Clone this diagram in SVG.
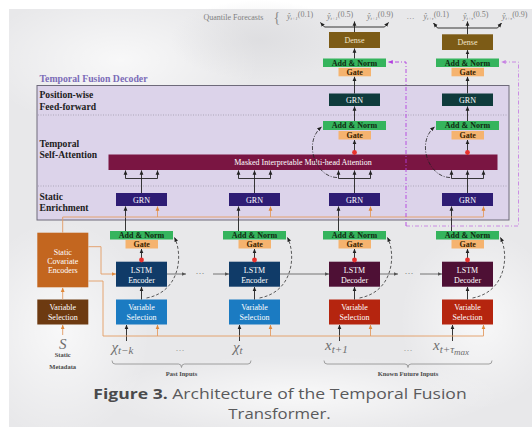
<svg xmlns="http://www.w3.org/2000/svg" width="532" height="430" viewBox="0 0 532 430">
<defs>
<style>
.sf{font-family:"Liberation Serif","DejaVu Serif",serif}
.wt{fill:#ffffff;font-size:8px;text-anchor:middle}
.bt{fill:#0f2a12;font-size:8px;font-weight:bold;text-anchor:middle}
.gtt{fill:#3a2200;font-size:8px;font-weight:bold;text-anchor:middle}
.lbl{fill:#1c1c1c;font-size:9.6px;font-weight:bold}
.an{fill:#35b45d}
.gt{fill:#f5b36f}
.gs{fill:#2e1c74}
.gp{fill:#0f3b3c}
.ds{fill:#7c5b16}
.le{fill:#103b68}
.ld{fill:#4e1035}
.vb{fill:#1b7bc2}
.vr{fill:#b5250f}
.k{stroke:#222;stroke-width:0.9;fill:none;marker-end:url(#mk)}
.kn{stroke:#222;stroke-width:0.9;fill:none}
.o{stroke:#e39c63;stroke-width:0.9;fill:none}
.oa{stroke:#e39c63;stroke-width:0.9;fill:none;marker-end:url(#mo)}
.g{stroke:#555;stroke-width:0.8;fill:none;marker-end:url(#mg)}
.p{stroke:#b23fe0;stroke-width:0.9;fill:none;stroke-dasharray:4 2 1 2;marker-end:url(#mp)}
.sk{stroke:#333;stroke-width:0.8;fill:none;stroke-dasharray:3 2;marker-end:url(#mk)}
.dd{stroke:#222;stroke-width:0.8;fill:none;stroke-dasharray:4 1.5 1 1.5;marker-end:url(#mk)}
.dot{fill:#e8322e}
.inp{fill:#6e6e6e;font-style:italic;font-size:15px}
.q{fill:#808080;font-size:8px}
.sm{fill:#4a4a4a;font-size:6.5px;font-weight:bold;text-anchor:middle}
</style>
<marker id="mk" viewBox="0 0 8 8" refX="7.5" refY="4" markerWidth="4.5" markerHeight="4.5" markerUnits="userSpaceOnUse" orient="auto"><path d="M0,0.6 L8,4 L0,7.4 z" fill="#222"/></marker>
<marker id="mo" viewBox="0 0 8 8" refX="7.5" refY="4" markerWidth="4.5" markerHeight="4.5" markerUnits="userSpaceOnUse" orient="auto"><path d="M0,0.6 L8,4 L0,7.4 z" fill="#e0883a"/></marker>
<marker id="mg" viewBox="0 0 8 8" refX="7.5" refY="4" markerWidth="4.5" markerHeight="4.5" markerUnits="userSpaceOnUse" orient="auto"><path d="M0,0.6 L8,4 L0,7.4 z" fill="#555"/></marker>
<marker id="mp" viewBox="0 0 8 8" refX="7.5" refY="4" markerWidth="4.5" markerHeight="4.5" markerUnits="userSpaceOnUse" orient="auto"><path d="M0,0.6 L8,4 L0,7.4 z" fill="#b23fe0"/></marker>
<radialGradient id="cl1" cx="0.5" cy="0.5" r="0.5"><stop offset="0" stop-color="#ffffff" stop-opacity="0.7"/><stop offset="1" stop-color="#ffffff" stop-opacity="0"/></radialGradient>
<radialGradient id="cl2" cx="0.5" cy="0.5" r="0.5"><stop offset="0" stop-color="#d8d8db" stop-opacity="0.6"/><stop offset="1" stop-color="#d8d8db" stop-opacity="0"/></radialGradient>
</defs>

<g id="background">
<rect x="0" y="0" width="532" height="430" fill="#ffffff"/>
<rect x="9" y="9" width="523" height="418" fill="#e8e8ea"/>
<ellipse cx="120" cy="60" rx="140" ry="70" fill="url(#cl1)"/>
<ellipse cx="60" cy="330" rx="90" ry="110" fill="url(#cl1)"/>
<ellipse cx="300" cy="395" rx="200" ry="40" fill="url(#cl1)"/>
<ellipse cx="480" cy="320" rx="80" ry="90" fill="url(#cl1)"/>
<ellipse cx="260" cy="40" rx="90" ry="40" fill="url(#cl2)"/>
</g>

<g id="decoder">
<rect x="37" y="85.5" width="472" height="134.5" fill="#dcd3ea" stroke="#6e6a7a" stroke-width="1"/>
<line x1="38" y1="115" x2="508" y2="115" stroke="#9a96a6" stroke-width="0.7" stroke-dasharray="1 1.5"/>
<line x1="38" y1="186" x2="508" y2="186" stroke="#9a96a6" stroke-width="0.7" stroke-dasharray="1 1.5"/>
<text class="sf" x="39.5" y="82" fill="#7b6cb8" font-size="9.5" font-weight="bold" textLength="108" lengthAdjust="spacingAndGlyphs">Temporal Fusion Decoder</text>
<text class="sf lbl" x="39.5" y="98">Position-wise</text>
<text class="sf lbl" x="39.5" y="109.5">Feed-forward</text>
<text class="sf lbl" x="39.5" y="146.5">Temporal</text>
<text class="sf lbl" x="39.5" y="157.5">Self-Attention</text>
<text class="sf lbl" x="39.5" y="200">Static</text>
<text class="sf lbl" x="39.5" y="210.5">Enrichment</text>
</g>

<g id="attention">
<rect x="108.5" y="154.5" width="389" height="15.5" fill="#7a1542"/>
<text class="sf wt" x="303" y="165" font-size="8.5">Masked Interpretable Multi-head Attention</text>
</g>

<g id="static-covariate-encoders">
<rect x="37.3" y="232.7" width="51" height="54.6" fill="#c3661f"/>
<text class="sf wt" x="62.8" y="254.5">Static</text>
<text class="sf wt" x="62.8" y="263.5">Covariate</text>
<text class="sf wt" x="62.8" y="272.5">Encoders</text>
</g>
<g id="vs-static">
<rect x="37.3" y="299.5" width="51" height="25" fill="#6d3a11"/>
<text class="sf wt" x="62.8" y="310">Variable</text>
<text class="sf wt" x="62.8" y="320">Selection</text>
</g>

<g id="grn-enrich-1"><rect class="gs" x="116" y="193" width="51" height="13"/><text class="sf wt" x="141.5" y="202.5">GRN</text></g>
<g id="addnorm-lstm-1"><rect class="an" x="110" y="231" width="63" height="8.5"/><text class="sf bt" x="141.5" y="238">Add &amp; Norm</text></g>
<g id="gate-lstm-1"><rect class="gt" x="125.5" y="240" width="32.5" height="8.5"/><text class="sf gtt" x="141.7" y="247">Gate</text></g>
<g id="lstm-1"><rect class="le" x="116" y="261.7" width="51" height="25"/><text class="sf wt" x="141.5" y="272.5">LSTM</text><text class="sf wt" x="141.5" y="282.5">Encoder</text></g>
<g id="vs-1"><rect class="vb" x="116" y="299.5" width="51" height="25"/><text class="sf wt" x="141.5" y="310">Variable</text><text class="sf wt" x="141.5" y="320">Selection</text></g>

<g id="grn-enrich-2"><rect class="gs" x="229" y="193" width="51" height="13"/><text class="sf wt" x="254.5" y="202.5">GRN</text></g>
<g id="addnorm-lstm-2"><rect class="an" x="223" y="231" width="63" height="8.5"/><text class="sf bt" x="254.5" y="238">Add &amp; Norm</text></g>
<g id="gate-lstm-2"><rect class="gt" x="238.5" y="240" width="32.5" height="8.5"/><text class="sf gtt" x="254.7" y="247">Gate</text></g>
<g id="lstm-2"><rect class="le" x="229" y="261.7" width="51" height="25"/><text class="sf wt" x="254.5" y="272.5">LSTM</text><text class="sf wt" x="254.5" y="282.5">Encoder</text></g>
<g id="vs-2"><rect class="vb" x="229" y="299.5" width="51" height="25"/><text class="sf wt" x="254.5" y="310">Variable</text><text class="sf wt" x="254.5" y="320">Selection</text></g>

<g id="grn-enrich-3"><rect class="gs" x="329" y="193" width="51" height="13"/><text class="sf wt" x="354.5" y="202.5">GRN</text></g>
<g id="addnorm-lstm-3"><rect class="an" x="323" y="231" width="63" height="8.5"/><text class="sf bt" x="354.5" y="238">Add &amp; Norm</text></g>
<g id="gate-lstm-3"><rect class="gt" x="338.5" y="240" width="32.5" height="8.5"/><text class="sf gtt" x="354.7" y="247">Gate</text></g>
<g id="lstm-3"><rect class="ld" x="329" y="261.7" width="51" height="25"/><text class="sf wt" x="354.5" y="272.5">LSTM</text><text class="sf wt" x="354.5" y="282.5">Decoder</text></g>
<g id="vs-3"><rect class="vr" x="329" y="299.5" width="51" height="25"/><text class="sf wt" x="354.5" y="310">Variable</text><text class="sf wt" x="354.5" y="320">Selection</text></g>
<g id="gate-att-3"><rect class="gt" x="338.5" y="131" width="32.5" height="8.5"/><text class="sf gtt" x="354.7" y="138">Gate</text></g>
<g id="addnorm-att-3"><rect class="an" x="323" y="121" width="63" height="9"/><text class="sf bt" x="354.5" y="128.3">Add &amp; Norm</text></g>
<g id="grn-ff-3"><rect class="gp" x="329" y="93.5" width="51" height="12.5"/><text class="sf wt" x="354.5" y="102.5">GRN</text></g>
<g id="gate-out-3"><rect class="gt" x="338.5" y="67.8" width="32.5" height="8.5"/><text class="sf gtt" x="354.7" y="74.8">Gate</text></g>
<g id="addnorm-out-3"><rect class="an" x="323" y="58.5" width="63" height="8.5"/><text class="sf bt" x="354.5" y="65.5">Add &amp; Norm</text></g>
<g id="dense-3"><rect class="ds" x="329" y="32" width="51" height="16"/><text class="sf" x="354.5" y="42.8" fill="#f3e6c8" font-size="8" text-anchor="middle">Dense</text></g>

<g id="grn-enrich-4"><rect class="gs" x="442" y="193" width="51" height="13"/><text class="sf wt" x="467.5" y="202.5">GRN</text></g>
<g id="addnorm-lstm-4"><rect class="an" x="436" y="231" width="63" height="8.5"/><text class="sf bt" x="467.5" y="238">Add &amp; Norm</text></g>
<g id="gate-lstm-4"><rect class="gt" x="451.5" y="240" width="32.5" height="8.5"/><text class="sf gtt" x="467.7" y="247">Gate</text></g>
<g id="lstm-4"><rect class="ld" x="442" y="261.7" width="51" height="25"/><text class="sf wt" x="467.5" y="272.5">LSTM</text><text class="sf wt" x="467.5" y="282.5">Decoder</text></g>
<g id="vs-4"><rect class="vr" x="442" y="299.5" width="51" height="25"/><text class="sf wt" x="467.5" y="310">Variable</text><text class="sf wt" x="467.5" y="320">Selection</text></g>
<g id="gate-att-4"><rect class="gt" x="451.5" y="131" width="32.5" height="8.5"/><text class="sf gtt" x="467.7" y="138">Gate</text></g>
<g id="addnorm-att-4"><rect class="an" x="436" y="121" width="63" height="9"/><text class="sf bt" x="467.5" y="128.3">Add &amp; Norm</text></g>
<g id="grn-ff-4"><rect class="gp" x="442" y="93.5" width="51" height="12.5"/><text class="sf wt" x="467.5" y="102.5">GRN</text></g>
<g id="gate-out-4"><rect class="gt" x="451.5" y="67.8" width="32.5" height="8.5"/><text class="sf gtt" x="467.7" y="74.8">Gate</text></g>
<g id="addnorm-out-4"><rect class="an" x="436" y="58.5" width="63" height="8.5"/><text class="sf bt" x="467.5" y="65.5">Add &amp; Norm</text></g>
<g id="dense-4"><rect class="ds" x="442" y="34.3" width="51" height="15.7"/><text class="sf" x="467.5" y="45" fill="#f3e6c8" font-size="8" text-anchor="middle">Dense</text></g>

<g id="connectors">
<path class="k" d="M141.5,299.5V287"/><path class="k" d="M141.5,261.7V249"/><path class="k" d="M125.5,231V206.5"/>
<path class="k" d="M141.5,193V170.5"/><path class="kn" d="M125.5,178.5H157.5"/><path class="k" d="M125.5,178.5V170.5"/><path class="k" d="M157.5,178.5V170.5"/>
<path class="k" d="M126.5,341V325"/><path class="oa" d="M157.5,217V206.5"/><path class="oa" d="M157.5,336V325"/>
<path class="sk" d="M146.5,298C179.5,292 183.5,256 174.5,237.5"/>
<path class="k" d="M254.5,299.5V287"/><path class="k" d="M254.5,261.7V249"/><path class="k" d="M238.5,231V206.5"/>
<path class="k" d="M254.5,193V170.5"/><path class="kn" d="M238.5,178.5H270.5"/><path class="k" d="M238.5,178.5V170.5"/><path class="k" d="M270.5,178.5V170.5"/>
<path class="k" d="M239.5,341V325"/><path class="oa" d="M270.5,217V206.5"/><path class="oa" d="M270.5,336V325"/>
<path class="sk" d="M259.5,298C292.5,292 296.5,256 287.5,237.5"/>
<path class="k" d="M354.5,299.5V287"/><path class="k" d="M354.5,261.7V249"/><path class="k" d="M338.5,231V206.5"/>
<path class="k" d="M354.5,193V170.5"/><path class="kn" d="M338.5,178.5H370.5"/><path class="k" d="M338.5,178.5V170.5"/><path class="k" d="M370.5,178.5V170.5"/>
<path class="k" d="M339.5,341V325"/><path class="oa" d="M370.5,217V206.5"/><path class="oa" d="M370.5,336V325"/>
<path class="sk" d="M359.5,298C392.5,292 396.5,256 387.5,237.5"/>
<path class="k" d="M354.5,154.5V140"/><path class="k" d="M354.5,121V106.5"/><path class="k" d="M354.5,93.5V76.8"/><path class="k" d="M354.5,58.5V48.5"/>
<path class="k" d="M354.5,32V21.5"/><path class="kn" d="M324.5,27H384.5"/><path class="k" d="M324.5,27L320.5,22.5"/><path class="k" d="M384.5,27L388.5,22.5"/>
<path class="dd" d="M337,177.5C315,177 303,142 321.5,127"/>
<path class="k" d="M467.5,299.5V287"/><path class="k" d="M467.5,261.7V249"/><path class="k" d="M451.5,231V206.5"/>
<path class="k" d="M467.5,193V170.5"/><path class="kn" d="M451.5,178.5H483.5"/><path class="k" d="M451.5,178.5V170.5"/><path class="k" d="M483.5,178.5V170.5"/>
<path class="k" d="M452.5,341V325"/><path class="oa" d="M483.5,217V206.5"/><path class="oa" d="M483.5,336V325"/>
<path class="sk" d="M472.5,298C505.5,292 509.5,256 500.5,237.5"/>
<path class="k" d="M467.5,154.5V140"/><path class="k" d="M467.5,121V106.5"/><path class="k" d="M467.5,93.5V76.8"/><path class="k" d="M467.5,58.5V50.2"/>
<path class="k" d="M467.5,34.3V21.5"/><path class="kn" d="M437.5,28H497.5"/><path class="k" d="M437.5,28L433.5,23"/><path class="k" d="M497.5,28L501.5,23"/>
<path class="dd" d="M450,177.5C428,177 416,142 434.5,127"/>
<path class="g" d="M167,274H186"/><path class="g" d="M213,274H229"/><path class="g" d="M280,274H329"/><path class="g" d="M380,274H398"/><path class="g" d="M420,274H442"/>
<text class="sf" x="200" y="276" fill="#666" font-size="9" text-anchor="middle">···</text>
<text class="sf" x="409" y="276" fill="#666" font-size="9" text-anchor="middle">···</text>
<path class="o" d="M62.7,232.7V217H483.5"/>
<path class="oa" d="M88.3,246.7H101V274H116"/>
<path class="o" d="M88.3,281H103V336H483.5"/>
<path class="oa" d="M62.7,299.5V287.8"/>
<path class="oa" d="M62.7,335V325"/>
<path class="p" d="M406,226V62H388.5"/>
<path class="p" d="M406,226H518.5V62H501.5" opacity="0.6"/>
<circle class="dot" cx="141.5" cy="260" r="2.4"/><circle class="dot" cx="254.5" cy="260" r="2.4"/>
<circle class="dot" cx="354.5" cy="260" r="2.4"/><circle class="dot" cx="467.5" cy="260" r="2.4"/>
<circle class="dot" cx="354.5" cy="152.5" r="2.4"/><circle class="dot" cx="467.5" cy="152.5" r="2.4"/>
</g>

<g id="quantiles" class="sf">
<text class="q" x="203.5" y="19.5" font-size="8.5">Quantile Forecasts</text>
<text x="273.5" y="22" fill="#888" font-size="14">{</text>
<text class="q" x="287" y="18.5" font-style="italic">ŷ<tspan font-size="5" dy="1.5">t+1</tspan><tspan dy="-3.5" font-style="normal">(0.1)</tspan></text>
<text class="q" x="327" y="18.5" font-style="italic">ŷ<tspan font-size="5" dy="1.5">t+1</tspan><tspan dy="-3.5" font-style="normal">(0.5)</tspan></text>
<text class="q" x="367" y="18.5" font-style="italic">ŷ<tspan font-size="5" dy="1.5">t+1</tspan><tspan dy="-3.5" font-style="normal">(0.9)</tspan></text>
<text class="q" x="406.5" y="19">…</text>
<text class="q" x="423.5" y="18.5" font-style="italic">ŷ<tspan font-size="5" dy="1.5">t+τ</tspan><tspan dy="-3.5" font-style="normal">(0.1)</tspan></text>
<text class="q" x="463" y="18.5" font-style="italic">ŷ<tspan font-size="5" dy="1.5">t+τ</tspan><tspan dy="-3.5" font-style="normal">(0.5)</tspan></text>
<text class="q" x="502" y="18.5" font-style="italic">ŷ<tspan font-size="5" dy="1.5">t+τ</tspan><tspan dy="-3.5" font-style="normal">(0.9)</tspan></text>
</g>

<g id="inputs" class="sf">
<text class="inp" x="62.7" y="349" text-anchor="middle" font-size="14">S</text>
<text class="sm" x="62.7" y="357">Static</text>
<text class="sm" x="62.7" y="368.5">Metadata</text>
<text class="inp" x="111.5" y="352">χ<tspan font-size="11" dy="1.5">t−k</tspan></text>
<text x="180" y="351" fill="#888" font-size="9" text-anchor="middle">…</text>
<text class="inp" x="233" y="352">χ<tspan font-size="11" dy="1.5">t</tspan></text>
<text class="inp" x="325" y="350">x<tspan font-size="11" dy="3">t+1</tspan></text>
<text x="408" y="351" fill="#888" font-size="9" text-anchor="middle">…</text>
<text class="inp" x="433" y="350">x<tspan font-size="11" dy="3">t+τ</tspan><tspan font-size="9" dy="1.5">max</tspan></text>
<path d="M112,360.5Q112,364 115,364H178.5Q181.5,364 181.5,367.5Q181.5,364 184.5,364H248Q251,364 251,360.5" fill="none" stroke="#8a8a8a" stroke-width="0.8"/>
<path d="M324,360.5Q324,364 327,364H405Q408,364 408,367.5Q408,364 411,364H489Q492,364 492,360.5" fill="none" stroke="#8a8a8a" stroke-width="0.8"/>
<text class="sm" x="181.5" y="375.5">Past Inputs</text>
<text class="sm" x="408" y="375.5">Known Future Inputs</text>
</g>

<g id="caption" font-family="'Open Sans','Noto Sans',sans-serif" font-size="15" fill="#5a5a5c">
<text x="93.3" y="398.5" textLength="373.4" lengthAdjust="spacingAndGlyphs"><tspan font-weight="bold" fill="#4a4a4c">Figure 3.</tspan> Architecture of the Temporal Fusion</text>
<text x="279.5" y="418.5" text-anchor="middle" textLength="102.4" lengthAdjust="spacingAndGlyphs">Transformer.</text>
</g>
</svg>
